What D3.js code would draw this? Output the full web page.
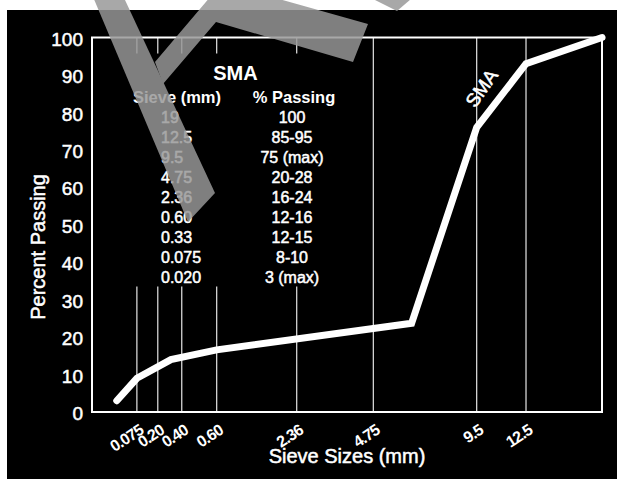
<!DOCTYPE html>
<html>
<head>
<meta charset="utf-8">
<script src="https://cdn.jsdelivr.net/npm/d3@7"></script>
<style>
  body { margin: 0; background: #fff; }
  svg { display: block; font-family: "Liberation Sans", Arial, sans-serif; }
  .heavy { stroke: #fff; stroke-width: 0.5px; }
</style>
</head>
<body>
<div id="svg-container"></div>
<script>
// ---- data ----
var percentTicks = [0, 10, 20, 30, 40, 50, 60, 70, 80, 90, 100];
var sieveTicks = [0.075, 0.20, 0.40, 0.60, 2.36, 4.75, 9.5, 12.5];
var sieveTickLabels = ["0.075", "0.20", "0.40", "0.60", "2.36", "4.75", "9.5", "12.5"];
var fullGridSieves = [4.75, 9.5, 12.5];   // these run the whole height
var maxSieve = 19;

// the SMA gradation line
var curveSizes = [0.020, 0.075, 0.30, 0.60, 6.3, 9.5, 12.5, 19];
var curvePassing = [3, 9, 14, 16.6, 23.7, 76, 93, 100];

// spec table
var specSieves = ["19", "12.5", "9.5", "4.75", "2.36", "0.60", "0.33", "0.075", "0.020"];
var specPassing = ["100", "85-95", "75 (max)", "20-28", "16-24", "12-16", "12-15", "8-10", "3 (max)"];

// ---- layout ----
var w = 617;
var h = 479;
var plot = { left: 92, right: 602, top: 37.5, bottom: 412 };
// hand drawn 0.45 power grid: where each sieve line sits, as a share of plot width
var gridShare = [0, 0.088, 0.129, 0.176, 0.2445, 0.4014, 0.5516, 0.7543, 0.851, 1];

var svg = d3.select("#svg-container")
    .append("svg")
    .attr("width", w)
    .attr("height", h);

svg.append("rect")
    .attr("x", 7).attr("y", 10)
    .attr("width", w - 7).attr("height", h - 10)
    .attr("fill", "#000");

// 0.45 power transform, then warped to the drawn grid
var powScale = d3.scalePow().exponent(0.45).domain([0, maxSieve]).range([0, 1]);
var warp = d3.scaleLinear()
    .domain([0].concat(sieveTicks, [maxSieve]).map(powScale))
    .range(gridShare.map(function(f) { return plot.left + f * (plot.right - plot.left); }));
var x = function(d) { return warp(powScale(d)); };

var y = d3.scaleLinear().domain([0, 100]).range([plot.bottom, plot.top]);

// grid lines
var grid = svg.append("g").attr("class", "grid");
grid.selectAll("line.vert")
    .data(sieveTicks)
    .enter().append("line")
    .attr("class", "vert")
    .attr("x1", x).attr("x2", x)
    .attr("y1", plot.bottom)
    .attr("y2", function(d) { return fullGridSieves.includes(d) ? plot.top : y(33.5); })
    .attr("stroke", "#e6e6e6")
    .attr("stroke-width", 1.2);

// short ticks hanging from the top border
grid.selectAll("line.top")
    .data(sieveTicks.filter(function(d) { return !fullGridSieves.includes(d); }))
    .enter().append("line")
    .attr("class", "top")
    .attr("x1", x).attr("x2", x)
    .attr("y1", plot.top)
    .attr("y2", plot.top + 16)
    .attr("stroke", "#e6e6e6")
    .attr("stroke-width", 1.2);

// frame
svg.append("rect")
    .attr("x", plot.left).attr("y", plot.top)
    .attr("width", plot.right - plot.left)
    .attr("height", plot.bottom - plot.top)
    .attr("fill", "none")
    .attr("stroke", "#fff")
    .attr("stroke-width", 2);

// y axis
var yAxis = svg.append("g")
    .attr("transform", "translate(" + plot.left + ",0)")
    .call(d3.axisLeft(y).tickValues(percentTicks).tickSize(0).tickPadding(9));
yAxis.select(".domain").remove();
yAxis.selectAll("text")
    .attr("class", "heavy")
    .attr("fill", "#fff")
    .attr("dy", "0.4em")
    .style("font-family", "'Liberation Sans', Arial, sans-serif")
    .style("font-size", "19px");

// x axis labels, slanted (axis works in the powered space)
var xAxis = svg.append("g")
    .attr("transform", "translate(0," + plot.bottom + ")")
    .call(d3.axisBottom(warp)
        .tickValues(sieveTicks.map(powScale))
        .tickFormat(function(d, i) { return sieveTickLabels[i]; })
        .tickSize(0));
xAxis.select(".domain").remove();
xAxis.selectAll("text")
    .attr("x", 0).attr("y", 0).attr("dy", 0)
    .attr("transform", "translate(7,21) rotate(-33)")
    .attr("text-anchor", "end")
    .attr("fill", "#fff")
    .style("font-family", "'Liberation Sans', Arial, sans-serif")
    .style("font-size", "16px")
    .style("font-weight", "bold")
    .style("letter-spacing", "-0.9px");

// axis titles
svg.append("text")
    .attr("class", "heavy")
    .attr("x", (plot.left + plot.right) / 2)
    .attr("y", 463)
    .attr("text-anchor", "middle")
    .attr("fill", "#fff")
    .style("font-size", "20px")
    .text("Sieve Sizes (mm)");

svg.append("text")
    .attr("class", "heavy")
    .attr("transform", "translate(45,247) rotate(-90)")
    .attr("text-anchor", "middle")
    .attr("fill", "#fff")
    .style("font-size", "20px")
    .text("Percent Passing");

// the curve
var curveData = curveSizes.map(function(d, i) { return [d, curvePassing[i]]; });
var line = d3.line()
    .x(function(d) { return x(d[0]); })
    .y(function(d) { return y(d[1]); });

svg.append("path")
    .datum(curveData)
    .attr("d", line)
    .attr("fill", "none")
    .attr("stroke", "#fff")
    .attr("stroke-width", 7)
    .attr("stroke-linecap", "round")
    .attr("stroke-linejoin", "miter");

// curve label
svg.append("text")
    .attr("class", "heavy")
    .attr("transform", "translate(487,92) rotate(-55)")
    .attr("text-anchor", "middle")
    .attr("fill", "#fff")
    .style("font-size", "19px")
    .text("SMA");

// spec table
var table = svg.append("g").attr("class", "spec").attr("fill", "#fff");
table.append("text")
    .attr("x", 235.5).attr("y", 80)
    .attr("text-anchor", "middle")
    .style("font-size", "20px").style("font-weight", "bold")
    .text("SMA");
table.append("text")
    .attr("x", 133).attr("y", 103)
    .style("font-size", "16.5px").style("font-weight", "bold")
    .text("Sieve (mm)");
table.append("text")
    .attr("x", 294).attr("y", 103)
    .attr("text-anchor", "middle")
    .style("font-size", "16.5px").style("font-weight", "bold")
    .text("% Passing");

table.selectAll("text.sieve")
    .data(specSieves)
    .enter().append("text")
    .attr("class", "sieve heavy")
    .attr("x", 161)
    .attr("y", function(d, i) { return 123 + i * 20; })
    .style("font-size", "16px")
    .text(function(d) { return d; });

table.selectAll("text.pass")
    .data(specPassing)
    .enter().append("text")
    .attr("class", "pass heavy")
    .attr("x", 292)
    .attr("y", function(d, i) { return 123 + i * 20; })
    .attr("text-anchor", "middle")
    .style("font-size", "16px")
    .text(function(d) { return d; });

// grey stamp lying over the top left of the scan
var stamp = svg.append("g").attr("opacity", 0.84).attr("fill", "rgb(152,152,152)");
var stampShapes = [
    [[88, -15], [188, 222], [215, 193], [118, -15]],
    [[155, 62], [222, -17], [368, 24], [353, 62], [216, 22], [163, 84]],
    [[373, -1], [411, -1], [397, 11]]
];
stamp.selectAll("polygon")
    .data(stampShapes)
    .enter().append("polygon")
    .attr("points", function(d) { return d.map(function(p) { return p.join(","); }).join(" "); });
</script>
</body>
</html>
